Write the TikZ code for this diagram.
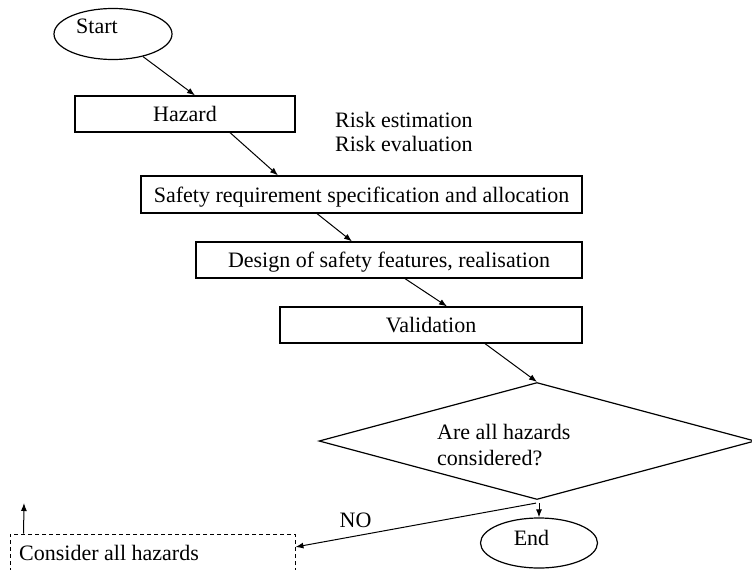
\documentclass[tikz,border=0pt]{standalone}
\usepackage{fontspec}
\setmainfont{Liberation Serif}
\usetikzlibrary{shapes.geometric,arrows.meta}
\begin{document}
\begin{tikzpicture}[x=1pt,y=-1pt,
  every node/.style={font=\fontsize{22}{24}\selectfont, inner sep=0pt},
  stepbox/.style={draw, line width=1.2pt, rectangle},
  oval/.style={draw, line width=1.2pt, ellipse},
  decbox/.style={draw, line width=1.2pt, diamond},
  txt/.style={anchor=base},
  arr/.style={line width=1pt, -{Latex[length=8pt,width=6pt]}},
  dashbox/.style={draw, line width=0.9pt, dash pattern=on 4pt off 3pt, rectangle}
]
\path[use as bounding box, clip] (0,0) rectangle (752,570);
% nodes
\node[oval, minimum width=118pt, minimum height=51pt] (start) at (113,34) {};
\node[txt] (starttext) at (97,33) {Start};
\node[stepbox, minimum width=220pt, minimum height=36pt] (hazard) at (185,114) {};
\node[txt] (hazardtext) at (185,121) {Hazard};
\node[anchor=base west] (risk1) at (335,127) {Risk estimation};
\node[anchor=base west] (risk2) at (335,151) {Risk evaluation};
\node[stepbox, minimum width=441pt, minimum height=37pt] (srs) at (361.5,194.5) {};
\node[txt] (srstext) at (361.5,202) {Safety requirement specification and allocation};
\node[stepbox, minimum width=386pt, minimum height=36pt] (design) at (389,260) {};
\node[txt] (designtext) at (389,267) {Design of safety features, realisation};
\node[stepbox, minimum width=302pt, minimum height=36pt] (valid) at (431,325) {};
\node[txt] (validtext) at (431,332) {Validation};
\node[decbox, minimum width=436pt, minimum height=117pt] (dec) at (537,441) {};
\node[anchor=base west] (dec1) at (437,439) {Are all hazards};
\node[anchor=base west] (dec2) at (437,465) {considered?};
\node[oval, minimum width=117pt, minimum height=50pt] (end) at (539,543) {};
\node[txt] (endtext) at (531.5,545) {End};
\node[dashbox, minimum width=285pt, minimum height=40pt] (cons) at (152.5,554) {};
\node[anchor=base west] (constext) at (19,560) {Consider all hazards};
\node[txt] (no) at (355.5,527) {NO};
\coordinate (up) at (24,503);
% connectors
\draw[arr] (start.-37.5) -- ([xshift=10pt]hazard.north);
\draw[arr] ([xshift=45pt]hazard.south) -- ([xshift=-83.5pt]srs.north);
\draw[arr] ([xshift=-44.5pt]srs.south) -- ([xshift=-37pt]design.north);
\draw[arr] ([xshift=16pt]design.south) -- ([xshift=16pt]valid.north);
\draw[arr] ([xshift=54pt]valid.south) -- (dec.north);
\draw[arr] ([xshift=2pt,yshift=-3pt]dec.south) -- (end.north);
\draw[arr] ([xshift=-1pt,yshift=-3pt]dec.south) -- ([yshift=7pt]cons.east);
\draw[arr] ([xshift=14pt]cons.north west) -- (up);
\end{tikzpicture}
\end{document}
